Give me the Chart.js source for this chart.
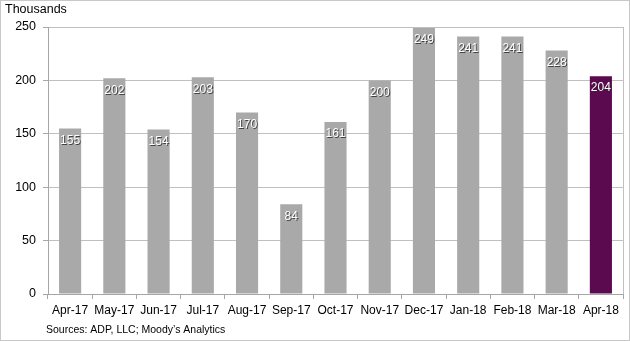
<!DOCTYPE html>
<html>
<head>
<meta charset="utf-8">
<script src="https://cdn.jsdelivr.net/npm/chart.js@4.4.0/dist/chart.umd.min.js"></script>
<style>
  html, body { margin: 0; padding: 0; background: #fff; }
  #wrap { position: relative; width: 630px; height: 341px; }
  canvas { display: block; }
</style>
</head>
<body>
<div id="wrap"><canvas id="chart" width="630" height="341"></canvas></div>
<script>
// ADP monthly employment change, thousands
var months = ['Apr-17', 'May-17', 'Jun-17', 'Jul-17', 'Aug-17', 'Sep-17', 'Oct-17',
  'Nov-17', 'Dec-17', 'Jan-18', 'Feb-18', 'Mar-18', 'Apr-18'];
var jobs = [155, 202, 154, 203, 170, 84, 161, 200, 249, 241, 241, 228, 204];
var yTicks = [0, 50, 100, 150, 200, 250];

var GRAY = '#a9a9a9';
var PURPLE = '#5b0a50';
var barColors = months.map(function(m, i) { return i === months.length - 1 ? PURPLE : GRAY; });

var FONT = 'Arial, "Liberation Sans", sans-serif';

// Draws value labels inside bars, captions, and the frame
var decorPlugin = {
  id: 'decor',
  afterDatasetsDraw: function(chart) {
    var ctx = chart.ctx;
    var meta = chart.getDatasetMeta(0);
    ctx.save();
    ctx.font = '12px ' + FONT;
    ctx.textAlign = 'center';
    ctx.textBaseline = 'middle';
    meta.data.forEach(function(bar, i) {
      var txt = String(jobs[i]);
      ctx.fillStyle = 'rgba(40,40,40,0.8)';
      ctx.fillText(txt, bar.x + 1, bar.y + 13);
      ctx.fillStyle = '#ffffff';
      ctx.fillText(txt, bar.x, bar.y + 12);
    });
    ctx.restore();
  },
  afterDraw: function(chart) {
    var ctx = chart.ctx;
    var area = chart.chartArea;
    ctx.save();
    // right frame line
    ctx.strokeStyle = '#c0c0c0';
    ctx.lineWidth = 1;
    ctx.beginPath();
    ctx.moveTo(Math.round(area.right) + 0.5, area.top);
    ctx.lineTo(Math.round(area.right) + 0.5, area.bottom);
    ctx.stroke();
    // outer border
    ctx.strokeStyle = '#c8c8c8';
    ctx.strokeRect(0.5, 0.5, chart.width - 1, chart.height - 1);
    // captions
    ctx.fillStyle = '#000';
    ctx.textAlign = 'left';
    ctx.textBaseline = 'middle';
    ctx.font = '12.5px ' + FONT;
    ctx.fillText('Thousands', 5, 10);
    ctx.font = '10.5px ' + FONT;
    ctx.fillText('Sources: ADP, LLC; Moody\u2019s Analytics', 46, 330);
    ctx.restore();
  }
};

new Chart(document.getElementById('chart').getContext('2d'), {
  type: 'bar',
  data: {
    labels: months,
    datasets: [{
      data: jobs,
      backgroundColor: barColors,
      borderWidth: 0,
      barPercentage: 0.5,
      categoryPercentage: 1.0
    }]
  },
  options: {
    responsive: false,
    animation: false,
    events: [],
    layout: { padding: { top: 27, right: 7, left: 0, bottom: 0 } },
    plugins: {
      legend: { display: false },
      tooltip: { enabled: false },
      title: { display: false }
    },
    scales: {
      x: {
        offset: true,
        grid: {
          offset: true,
          drawOnChartArea: false,
          drawTicks: true,
          tickLength: 5,
          color: '#a6a6a6'
        },
        border: { display: true, color: '#a6a6a6' },
        ticks: {
          color: '#000',
          font: { family: FONT, size: 12 },
          padding: 4,
          maxRotation: 0,
          autoSkip: false
        },
        afterFit: function(scale) { scale.height = 47; }
      },
      y: {
        min: 0,
        max: 250,
        afterBuildTicks: function(scale) {
          scale.ticks = yTicks.map(function(v) { return { value: v }; });
        },
        grid: {
          color: '#c0c0c0',
          tickLength: 5,
          tickColor: '#a6a6a6'
        },
        border: { display: true, color: '#a6a6a6' },
        ticks: {
          color: '#000',
          font: { family: FONT, size: 12.5 },
          padding: 7
        },
        afterFit: function(scale) { scale.width = 48; }
      }
    }
  },
  plugins: [decorPlugin]
});
</script>
</body>
</html>
